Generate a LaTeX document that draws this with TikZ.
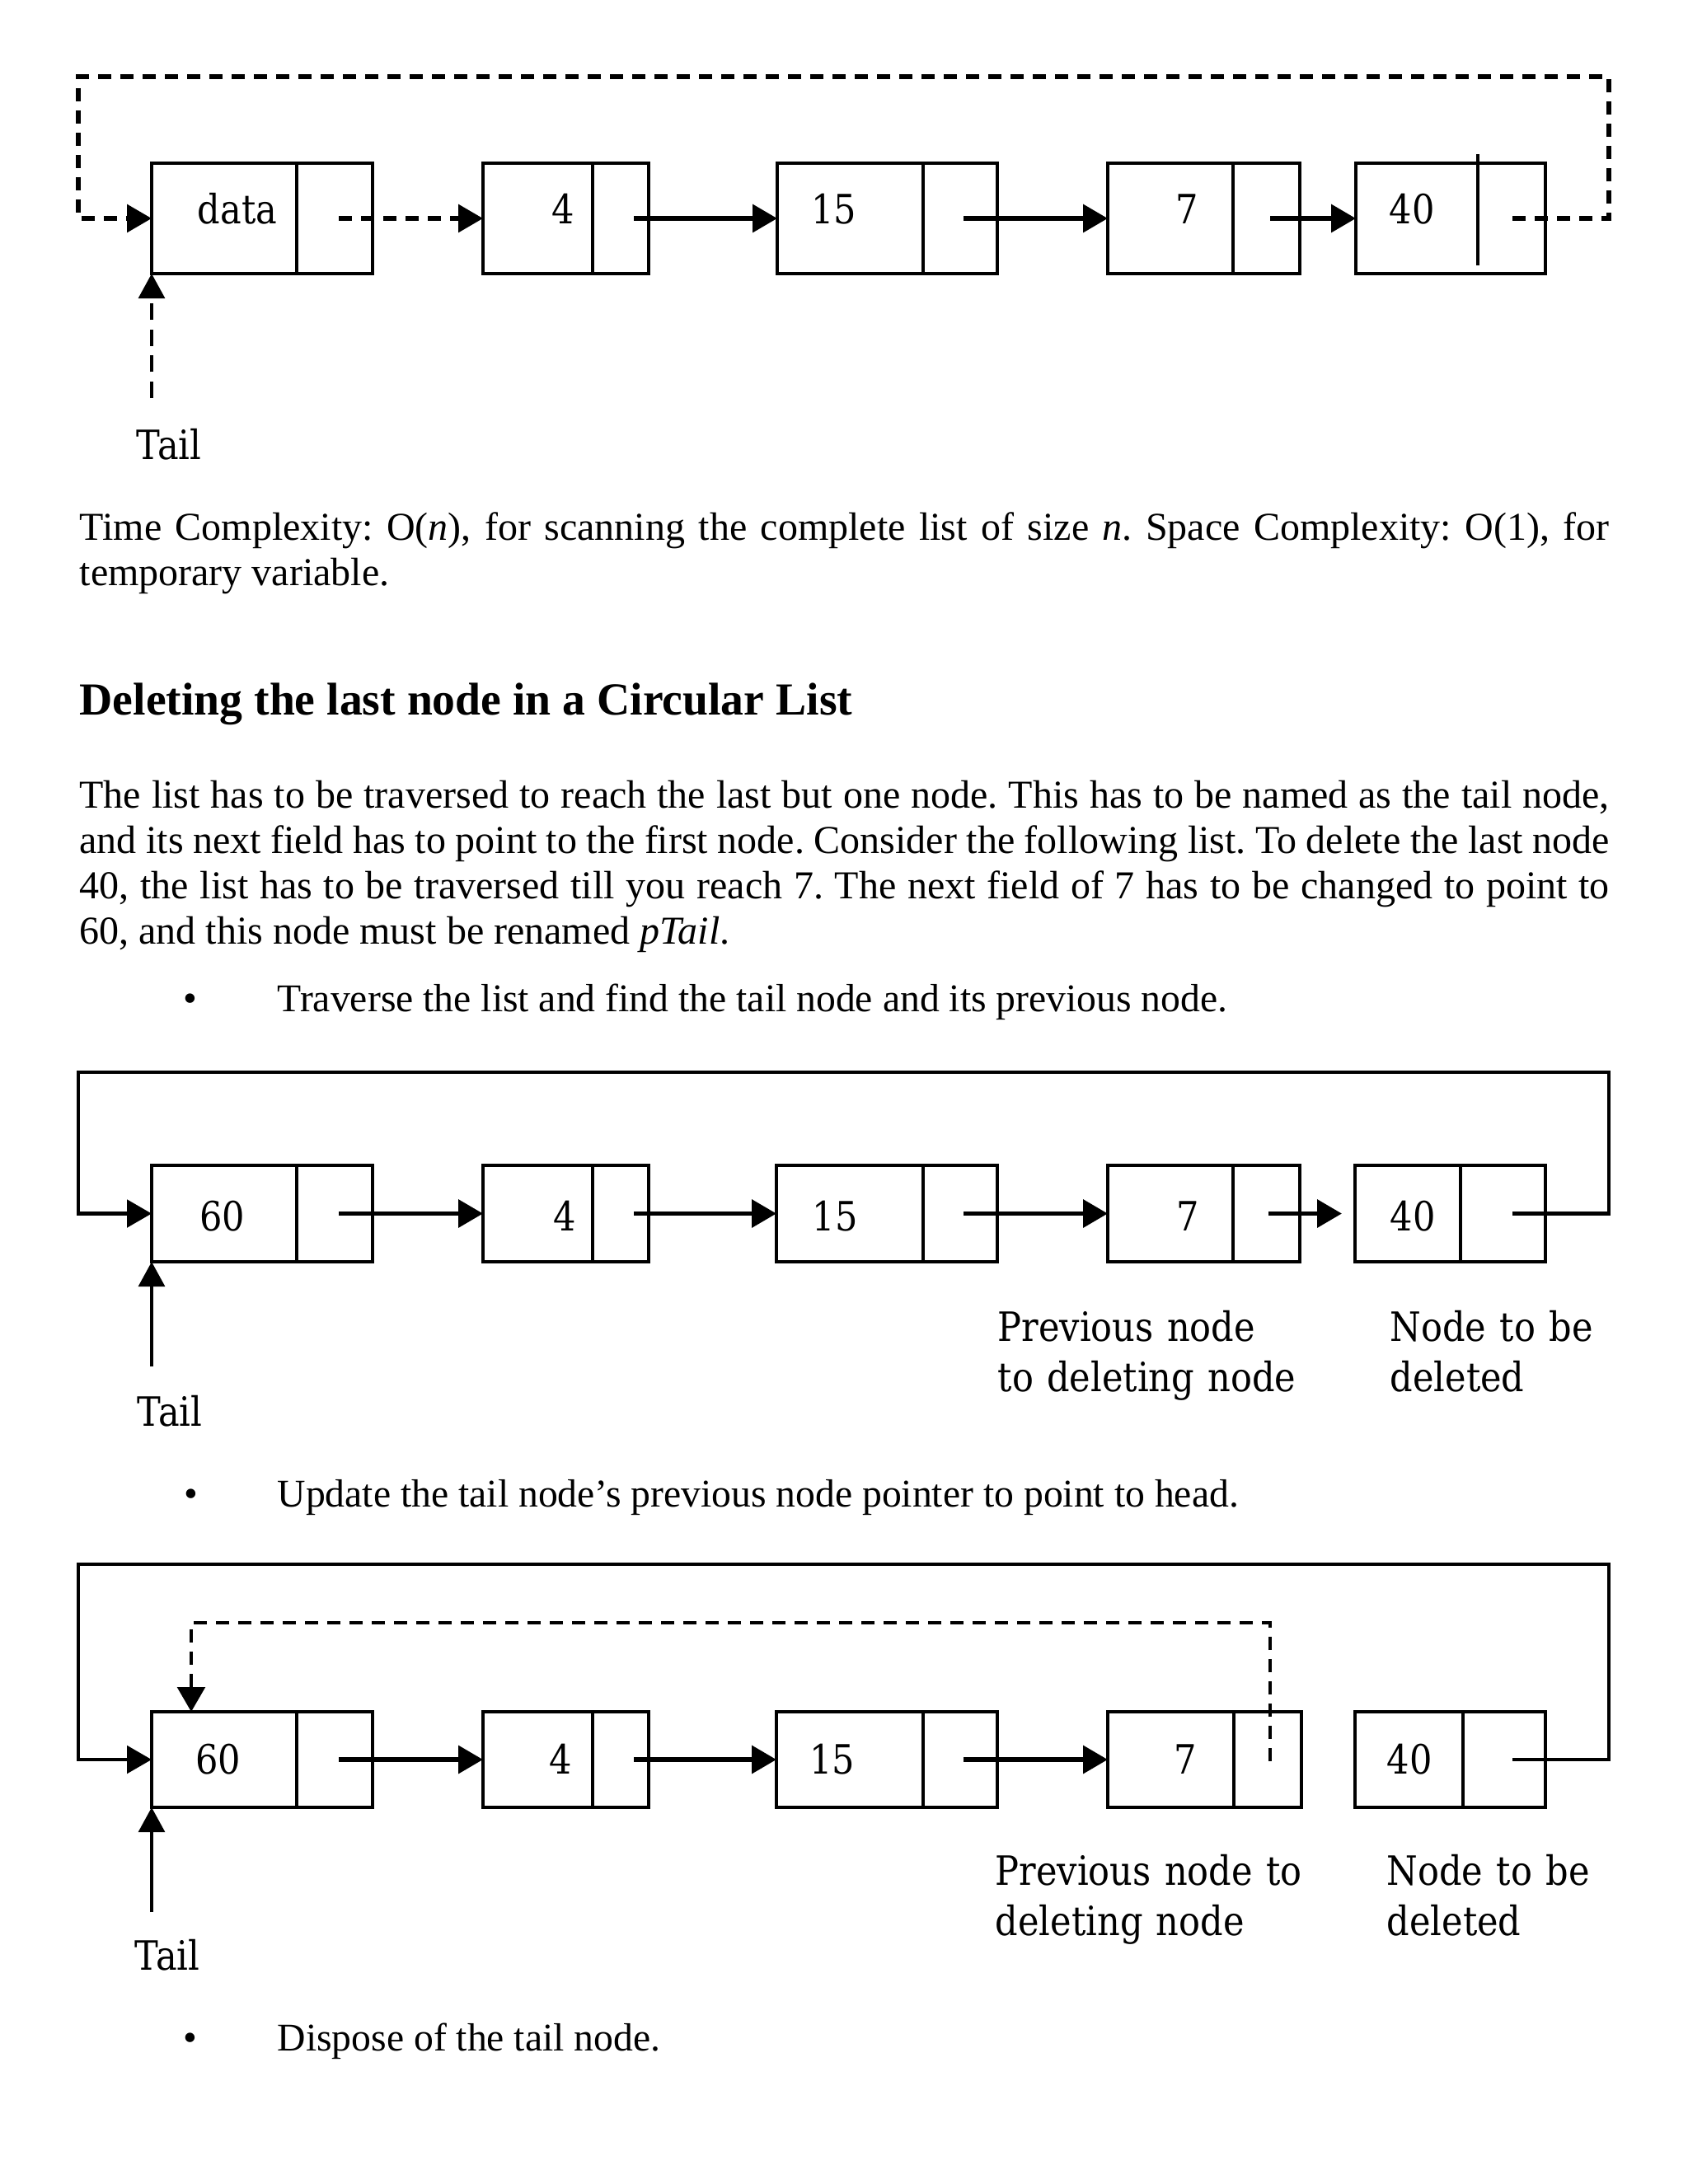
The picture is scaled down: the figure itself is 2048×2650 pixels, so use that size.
\documentclass[tikz,border=0pt]{standalone}
\usepackage{fontspec}
\setmainfont{Liberation Serif}
\newfontfamily\dfont[FakeStretch=0.88]{DejaVu Serif}
\usetikzlibrary{arrows.meta}
\frenchspacing
\newcommand\lnode[6]{%
  \node[listbox, anchor=north west, minimum width={(#3-#2)*0.3pt}, minimum height={(#6-#5)*0.3pt}] (#1) at (#2,#5) {};
}
\begin{document}
\begin{tikzpicture}[x=0.3pt,y=-0.3pt,
  listbox/.style={draw, line width=1.35pt, inner sep=0pt, outer sep=0pt},
  divider/.style={line width=1pt},
  ptr/.style={line width=1.7pt, -{Triangle[length=9pt,width=10pt]}},
  dptr/.style={line width=1.6pt, dash pattern=on 4.8pt off 3.3pt, -{Triangle[length=9pt,width=10pt]}},
  loopline/.style={line width=1.35pt, -{Triangle[length=9pt,width=10pt]}},
  tailptr/.style={line width=1.2pt, -{Triangle[length=9pt,width=9.5pt]}},
  dtailptr/.style={line width=1.2pt, dash pattern=on 6pt off 3.5pt, -{Triangle[length=9pt,width=9.5pt]}},
  val/.style={anchor=base, inner sep=0pt, font=\dfont\fontsize{14.7pt}{18pt}\selectfont},
  lbl/.style={anchor=base west, inner sep=0pt, text width=140pt, align=left, font=\dfont\fontsize{14.7pt}{18.3pt}\selectfont},
  body/.style={inner sep=0pt, font=\fontsize{14.4pt}{16.5pt}\selectfont},
  bullettext/.style={inner sep=0pt, font=\fontsize{14.3pt}{16.5pt}\selectfont},
]
\useasboundingbox (0,0) rectangle (2048,2650);
\fill[white] (0,0) rectangle (2048,2650);

% ================= Diagram 1 =================
\lnode{d1n1}{184}{452}{360}{198}{332}
\lnode{d1n2}{586}{787}{719}{198}{332}
\lnode{d1n3}{943}{1210}{1120}{198}{332}
\lnode{d1n4}{1344}{1577}{1496}{198}{332}
\lnode{d1n5}{1645}{1875}{1793}{198}{332}
\draw[divider] (360,198) -- (360,332);
\draw[divider] (719,198) -- (719,332);
\draw[divider] (1120,198) -- (1120,332);
\draw[divider] (1496,198) -- (1496,332);
\draw[divider] (1793,187) -- (1793,322);
\node[val] (d1v1) at (288,271) {data};
\node[val] (d1v2) at (683,271) {4};
\node[val] (d1v3) at (1012,271) {15};
\node[val] (d1v4) at (1440,271) {7};
\node[val] (d1v5) at (1713,271) {40};
\coordinate (d1p1) at (411,265);
\coordinate (d1p2) at (769,265);
\coordinate (d1p3) at (1169,265);
\coordinate (d1p4) at (1541,265);
\coordinate (d1p5) at (1835,265);
\coordinate (d1tr) at (1952,93);
\coordinate (d1tl) at (95,93);
\draw[dptr] (d1p1) -- (d1n2.west);
\draw[ptr] (d1p2) -- (d1n3.west);
\draw[ptr] (d1p3) -- (d1n4.west);
\draw[ptr] (d1p4) -- (d1n5.west);
\draw[dptr] (d1p5) -| (d1tr) -- (d1tl) |- (d1n1.west);
\coordinate (d1t) at (184,483);
\draw[dtailptr] (d1t) -- (d1n1.south west);
\node[val] (d1tail) at (205,557) {Tail};

% ================= Text =================
\node[body, anchor=base west, text width=556.8pt, align=justify] (tc) at (96,655)
 {\hyphenpenalty=10000 Time Complexity: O(\textit{n}), for scanning the complete list of size \textit{n}. Space Complexity: O(1), for temporary variable.};
\node[anchor=base west, inner sep=0pt, font=\fontsize{16.7pt}{19pt}\selectfont\bfseries] (hd) at (96,867)
 {Deleting the last node in a Circular List};
\node[body, anchor=base west, text width=556.8pt, align=justify] (para) at (96,980)
 {\hyphenpenalty=10000 The list has to be traversed to reach the last but one node. This has to be named as the tail node,\linebreak
 and its next field has to point to the first node. Consider the following list. To delete the last node\linebreak
 40, the list has to be traversed till you reach 7. The next field of 7 has to be changed to point to\linebreak
 60, and this node must be renamed \textit{pTail}.};
\node[body, anchor=base] (b1) at (231,1227) {•};
\node[bullettext, anchor=base west] (b1t) at (336,1227) {Traverse the list and find the tail node and its previous node.};
\node[body, anchor=base] (b2) at (232,1828) {•};
\node[bullettext, anchor=base west] (b2t) at (336,1828) {Update the tail node’s previous node pointer to point to head.};
\node[body, anchor=base] (b3) at (231,2488) {•};
\node[bullettext, anchor=base west] (b3t) at (336,2488) {Dispose of the tail node.};

% ================= Diagram 2 =================
\lnode{d2n1}{184}{452}{360}{1414}{1531}
\lnode{d2n2}{586}{787}{719}{1414}{1531}
\lnode{d2n3}{942}{1210}{1120}{1414}{1531}
\lnode{d2n4}{1344}{1577}{1496}{1414}{1531}
\lnode{d2n5}{1644}{1875}{1772}{1414}{1531}
\draw[divider] (360,1414) -- (360,1531);
\draw[divider] (719,1414) -- (719,1531);
\draw[divider] (1120,1414) -- (1120,1531);
\draw[divider] (1496,1414) -- (1496,1531);
\draw[divider] (1772,1414) -- (1772,1531);
\node[val] (d2v1) at (270,1493) {60};
\node[val] (d2v2) at (685,1493) {4};
\node[val] (d2v3) at (1013,1493) {15};
\node[val] (d2v4) at (1441,1493) {7};
\node[val] (d2v5) at (1714,1493) {40};
\coordinate (d2p1) at (411,1472.5);
\coordinate (d2p2) at (769,1472.5);
\coordinate (d2p3) at (1169,1472.5);
\coordinate (d2p4) at (1539,1472.5);
\coordinate (d2p5) at (1835,1472.5);
\coordinate (d2tr) at (1952,1301);
\coordinate (d2tl) at (95,1301);
\draw[ptr] (d2p1) -- (d2n2.west);
\draw[ptr] (d2p2) -- (d2n3.west);
\draw[ptr] (d2p3) -- (d2n4.west);
\draw[line width=1.7pt, -{Triangle[length=9pt,width=10pt,sep=4.8pt]}] (d2p4) -- (d2n5.west);
\draw[loopline] (d2p5) -| (d2tr) -- (d2tl) |- (d2n1.west);
\coordinate (d2t) at (184,1658);
\draw[tailptr] (d2t) -- (d2n1.south west);
\node[val] (d2tail) at (206,1730) {Tail};
\node[lbl] (d2l1) at (1210,1627) {Previous node\\to deleting node};
\node[lbl] (d2l2) at (1686,1627) {Node to be\\deleted};

% ================= Diagram 3 =================
\lnode{d3n1}{184}{452}{360}{2077}{2193}
\lnode{d3n2}{586}{787}{719}{2077}{2193}
\lnode{d3n3}{942}{1210}{1120}{2077}{2193}
\lnode{d3n4}{1344}{1579}{1497}{2077}{2193}
\lnode{d3n5}{1644}{1875}{1775}{2077}{2193}
\draw[divider] (360,2077) -- (360,2193);
\draw[divider] (719,2077) -- (719,2193);
\draw[divider] (1120,2077) -- (1120,2193);
\draw[divider] (1497,2077) -- (1497,2193);
\draw[divider] (1775,2077) -- (1775,2193);
\node[val] (d3v1) at (265,2152) {60};
\node[val] (d3v2) at (680,2152) {4};
\node[val] (d3v3) at (1010,2152) {15};
\node[val] (d3v4) at (1438,2152) {7};
\node[val] (d3v5) at (1710,2152) {40};
\coordinate (d3p1) at (411,2135);
\coordinate (d3p2) at (769,2135);
\coordinate (d3p3) at (1169,2135);
\coordinate (d3p4) at (1541,2137);
\coordinate (d3p5) at (1835,2135);
\coordinate (d3tr) at (1952,1898);
\coordinate (d3tl) at (95,1898);
\coordinate (d3dl) at (232,1969);
\draw[ptr] (d3p1) -- (d3n2.west);
\draw[ptr] (d3p2) -- (d3n3.west);
\draw[ptr] (d3p3) -- (d3n4.west);
\draw[loopline] (d3p5) -| (d3tr) -- (d3tl) |- (d3n1.west);
\draw[dptr, line width=1.4pt] (d3p4) |- (d3dl) -- (d3dl |- d3n1.north);
\coordinate (d3t) at (184,2320);
\draw[tailptr] (d3t) -- (d3n1.south west);
\node[val] (d3tail) at (203,2390) {Tail};
\node[lbl] (d3l1) at (1207,2287) {Previous node to\\deleting node};
\node[lbl] (d3l2) at (1682,2287) {Node to be\\deleted};
\end{tikzpicture}
\end{document}
